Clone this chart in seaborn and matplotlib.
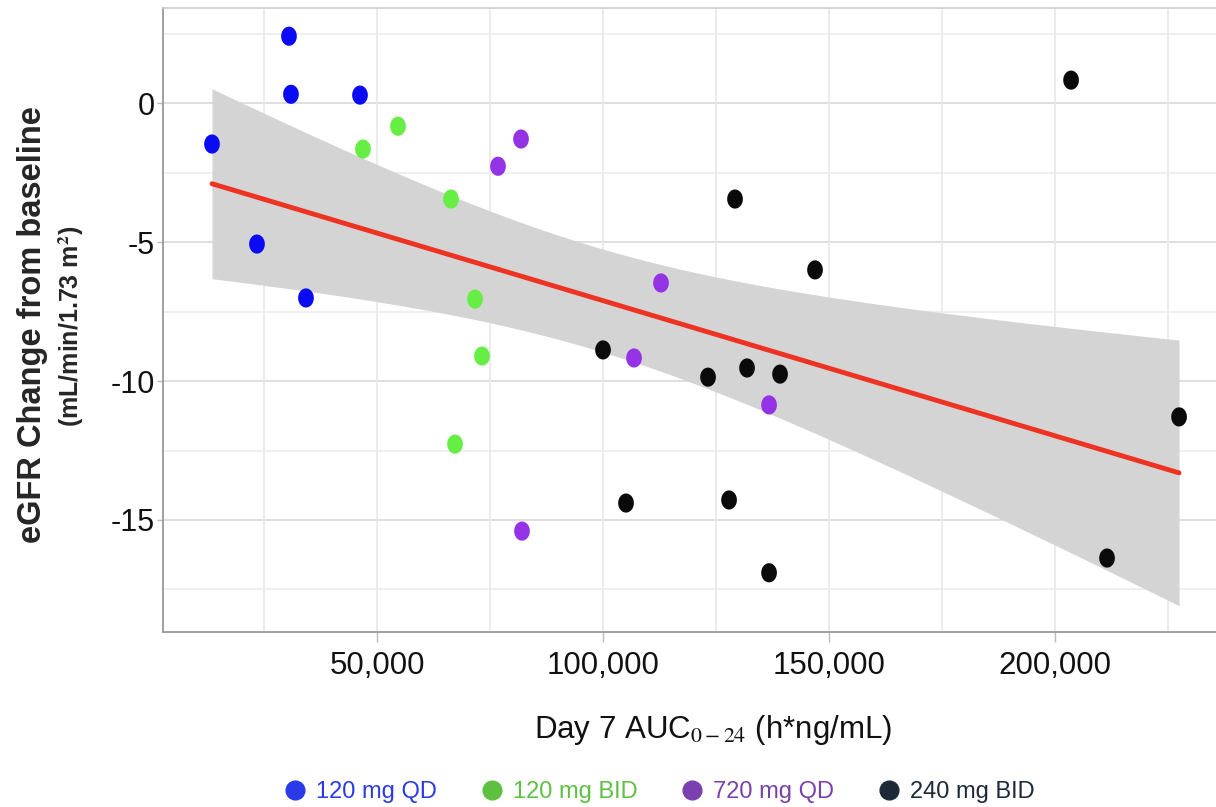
import numpy as np
import pandas as pd
import matplotlib
matplotlib.use("Agg")
import matplotlib.pyplot as plt
from matplotlib.path import Path
from matplotlib.lines import Line2D
import seaborn as sns

# ---- data ----
groups = ["120 mg QD", "120 mg BID", "720 mg QD", "240 mg BID"]

qd120_auc = [13500, 23450, 30530, 30970, 34290, 46240]
qd120_egfr = [-1.47, -5.07, 2.41, 0.32, -7.01, 0.29]

bid120_auc = [54650, 46900, 66370, 71680, 73230, 67260]
bid120_egfr = [-0.83, -1.65, -3.45, -7.05, -9.10, -12.27]

qd720_auc = [81860, 76770, 112830, 106860, 136730, 82080]
qd720_egfr = [-1.29, -2.27, -6.47, -9.17, -10.86, -15.40]

bid240_auc = [100000, 105090, 123230, 131860, 139160, 127880, 129200, 146900,
              136730, 203540, 211500, 227430]
bid240_egfr = [-8.88, -14.39, -9.86, -9.53, -9.75, -14.28, -3.45, -6.00,
               -16.90, 0.83, -16.37, -11.29]

point_colors = ["#0a0af5", "#66ee44", "#9433e6", "#0a0a0a"]
legend_colors = ["#2a3ae8", "#5ec040", "#7a40b0", "#1c2a38"]

x_ticks = [50000, 100000, 150000, 200000]
x_ticklabels = ["50,000", "100,000", "150,000", "200,000"]
y_ticks = [0, -5, -10, -15]
y_ticklabels = ["0", "-5", "-10", "-15"]

df = pd.DataFrame({
    "auc": qd120_auc + bid120_auc + qd720_auc + bid240_auc,
    "egfr": qd120_egfr + bid120_egfr + qd720_egfr + bid240_egfr,
    "dose": ([groups[0]] * len(qd120_auc) + [groups[1]] * len(bid120_auc)
             + [groups[2]] * len(qd720_auc) + [groups[3]] * len(bid240_auc)),
})

# ---- figure ----
sns.set_theme(style="white")
plt.rcParams["font.family"] = ["Liberation Sans", "DejaVu Sans"]
plt.rcParams["mathtext.fontset"] = "stix"

fig = plt.figure(figsize=(12.16, 8.07), dpi=100)
ax = fig.add_axes([0.134, 0.2169, 0.866, 0.773])

# grid
for v in np.arange(-17.5, 3.5, 2.5):
    major = abs(v % 5) < 1e-9
    ax.axhline(v, color="#d9d9d9" if major else "#ececec", lw=1.2, zorder=0)
for v in np.arange(25000, 250000, 25000):
    ax.axvline(v, color="#e8e8e8", lw=1.2, zorder=0)

# analytic 95% confidence band of the OLS fit
x = df["auc"].to_numpy(float)
y = df["egfr"].to_numpy(float)
n = len(x)
slope, intercept = np.polyfit(x, y, 1)
resid = y - (slope * x + intercept)
s = np.sqrt(np.sum(resid ** 2) / (n - 2))
xg = np.linspace(x.min(), x.max(), 200)
yg = slope * xg + intercept
se = s * np.sqrt(1 / n + (xg - x.mean()) ** 2 / np.sum((x - x.mean()) ** 2))
t_crit = 2.048  # t(0.975, df=28)
ax.fill_between(xg, yg - t_crit * se, yg + t_crit * se, color="#d4d4d4",
                linewidth=0, zorder=1)

# regression line
sns.regplot(data=df, x="auc", y="egfr", ax=ax, scatter=False, ci=None,
            color="#ee3322", line_kws={"lw": 3.5, "zorder": 3})

# elliptical marker
t = np.linspace(0, 2 * np.pi, 60)
ell = Path(np.column_stack([0.82 * np.cos(t), np.sin(t)]), closed=True)

sns.scatterplot(data=df, x="auc", y="egfr", hue="dose", hue_order=groups,
                palette=point_colors, marker=ell, s=190, linewidth=0,
                ax=ax, legend=False, zorder=4)

ax.set_xlim(2650, 235600)
ax.set_ylim(-19.03, 3.42)
ax.set_xticks(x_ticks)
ax.set_xticklabels(x_ticklabels, fontsize=22.5)
ax.set_yticks(y_ticks)
ax.set_yticklabels(y_ticklabels, fontsize=22)
ax.tick_params(axis="both", width=1, color="#bbbbbb", bottom=True,
               left=True, labelcolor="#111111")
ax.tick_params(axis="x", length=7, pad=7)
ax.tick_params(axis="y", length=4, pad=2)
ax.set_xlabel("")
ax.set_ylabel("")

for side in ["left", "bottom"]:
    ax.spines[side].set_color("#999999")
    ax.spines[side].set_linewidth(1.3)
ax.spines["top"].set_color("#cccccc")
ax.spines["top"].set_linewidth(1.2)
ax.spines["right"].set_visible(False)

# axis labels
fig.text(713 / 1216, 1 - 730 / 807, r"Day 7 AUC$_{0-24}$ (h*ng/mL)", ha="center",
         va="center", fontsize=22.5, color="#111111")
fig.text(33 / 1216, 1 - 325 / 807, "eGFR Change from baseline", rotation=90,
         ha="center", va="center", fontsize=23.5, fontweight="bold")
fig.text(71 / 1216, 1 - 326 / 807, "(mL/min/1.73 m$^\\mathbf{2}$)", rotation=90,
         ha="center", va="center", fontsize=18, fontweight="bold")

# legend
handles = [Line2D([], [], marker="o", linestyle="none", markersize=13.5,
                  markerfacecolor=c, markeredgecolor=c) for c in legend_colors]
leg = fig.legend(handles, groups, loc="center", ncol=4,
                 bbox_to_anchor=(659 / 1216, 1 - 792 / 807), frameon=False,
                 fontsize=17, handlelength=1.0, handletextpad=0.39,
                 columnspacing=1.83, borderpad=0.2)
for txt, c in zip(leg.get_texts(), legend_colors):
    txt.set_color(c)

fig.savefig("out.png", dpi=100)
